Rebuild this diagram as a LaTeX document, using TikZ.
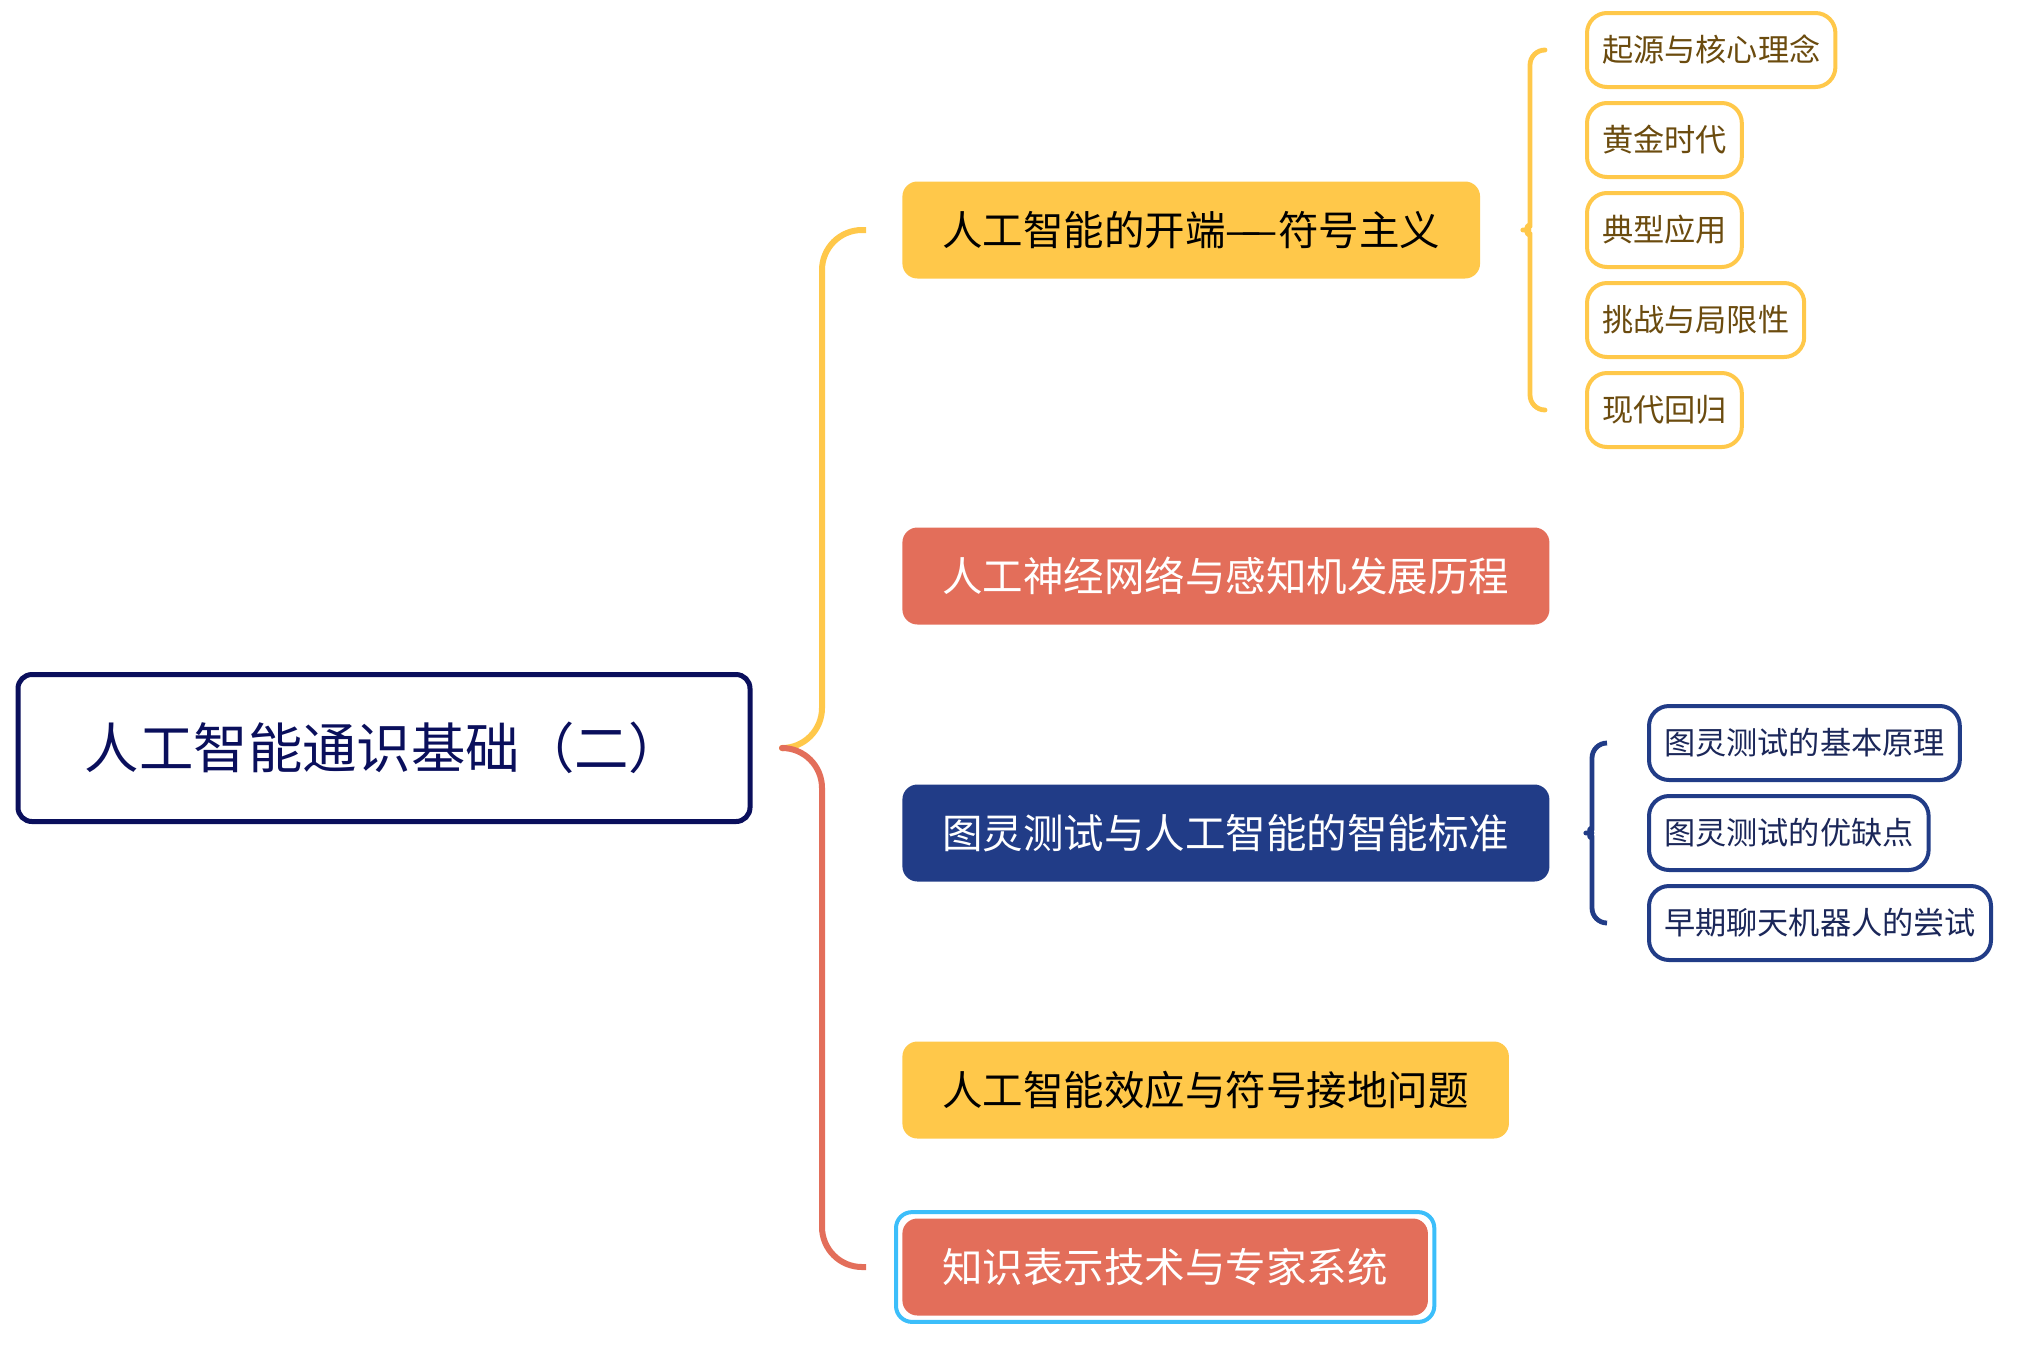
\documentclass[tikz,border=0pt]{standalone}
\usepackage{fontspec}
\setmainfont{Noto Sans CJK SC}
\usetikzlibrary{calc,positioning}
\definecolor{mmyellow}{HTML}{FFC84A}
\definecolor{mmred}{HTML}{E36E5A}
\definecolor{mmblue}{HTML}{213C87}
\definecolor{mmnavy}{HTML}{0A0F5C}
\definecolor{mmbrown}{HTML}{6B4B0E}
\definecolor{mmsubtxt}{HTML}{1B2759}
\definecolor{mmselect}{HTML}{3CBEFA}
\tikzset{
  rootbox/.style={draw=mmnavy, line width=2.5pt, rounded corners=7pt, fill=white, text=mmnavy,
    font=\fontsize{27.2}{31}\selectfont, minimum width=366pt, minimum height=73.5pt},
  topic/.style={rounded corners=7.5pt, inner xsep=20pt, minimum height=48.5pt,
    font=\fontsize{20.25}{24}\selectfont, anchor=west},
  subtopic/.style={fill=white, line width=2pt, rounded corners=10pt, inner xsep=7.5pt,
    minimum height=37pt, font=\fontsize{15.6}{19}\selectfont, anchor=west},
  branch/.style={line width=3pt, rounded corners=20pt},
  subbranch/.style={line width=2.4pt, rounded corners=7.5pt},
  every picture/.style={line join=round}
}

\begin{document}
\begin{tikzpicture}[x=0.5pt, y=-0.5pt]
  \useasboundingbox (0,0) rectangle (2032,1344);
  % root
  \node[rootbox] (root) at (384,748) {人工智能通识基础（二）};
  \coordinate (jn) at ([xshift=15.5pt]root.east);
  % main topics
  \node[topic, fill=mmyellow, text=black] (k1) at (902,230) {人工智能的开端—\kern-.5em—符号主义};
  \node[topic, fill=mmred, text=white] (k2) at (902,576) {人工神经网络与感知机发展历程};
  \node[topic, fill=mmblue, text=white] (k3) at (902,833) {图灵测试与人工智能的智能标准};
  \node[topic, fill=mmyellow, text=black] (k4) at (902,1090) {人工智能效应与符号接地问题};
  \node[topic, fill=mmred, text=white] (k5) at (902,1267) {知识表示技术与专家系统};
  \draw[mmselect, line width=2pt, rounded corners=8pt]
    ([shift={(-3pt,-3pt)}]k5.south west) rectangle ([shift={(3pt,3pt)}]k5.north east);
  \draw[branch, mmyellow] (jn) -| ([xshift=-40pt]k1.west) -- ([xshift=-18pt]k1.west);
  \draw[branch, mmred] (jn) -| ([xshift=-40pt]k5.west) -- ([xshift=-18pt]k5.west);
  % subtopics of k1
  \node[subtopic, draw=mmyellow, text=mmbrown] (s11) at (1585,50) {起源与核心理念};
  \node[subtopic, draw=mmyellow, text=mmbrown] (s12) at (1585,140) {黄金时代};
  \node[subtopic, draw=mmyellow, text=mmbrown] (s13) at (1585,230) {典型应用};
  \node[subtopic, draw=mmyellow, text=mmbrown] (s14) at (1585,320) {挑战与局限性};
  \node[subtopic, draw=mmyellow, text=mmbrown] (s15) at (1585,410) {现代回归};
  \draw[subbranch, mmyellow] ([xshift=-20.5pt]s11.west) -| ([xshift=-27.5pt,yshift=9pt]s13.west)
    to[out=-90,in=0] ([xshift=-35.5pt]s13.west)
    to[out=0,in=90] ([xshift=-27.5pt,yshift=-9pt]s13.west) |- ([xshift=-20.5pt]s15.west);
  % subtopics of k3
  \node[subtopic, draw=mmblue, text=mmsubtxt] (s31) at (1647,743) {图灵测试的基本原理};
  \node[subtopic, draw=mmblue, text=mmsubtxt] (s32) at (1647,833) {图灵测试的优缺点};
  \node[subtopic, draw=mmblue, text=mmsubtxt] (s33) at (1647,923) {早期聊天机器人的尝试};
  \draw[subbranch, mmblue] ([xshift=-20pt]s31.west) -| ([xshift=-27.5pt,yshift=9pt]s32.west)
    to[out=-90,in=0] ([xshift=-35pt]s32.west)
    to[out=0,in=90] ([xshift=-27.5pt,yshift=-9pt]s32.west) |- ([xshift=-20pt]s33.west);
\end{tikzpicture}
\end{document}
